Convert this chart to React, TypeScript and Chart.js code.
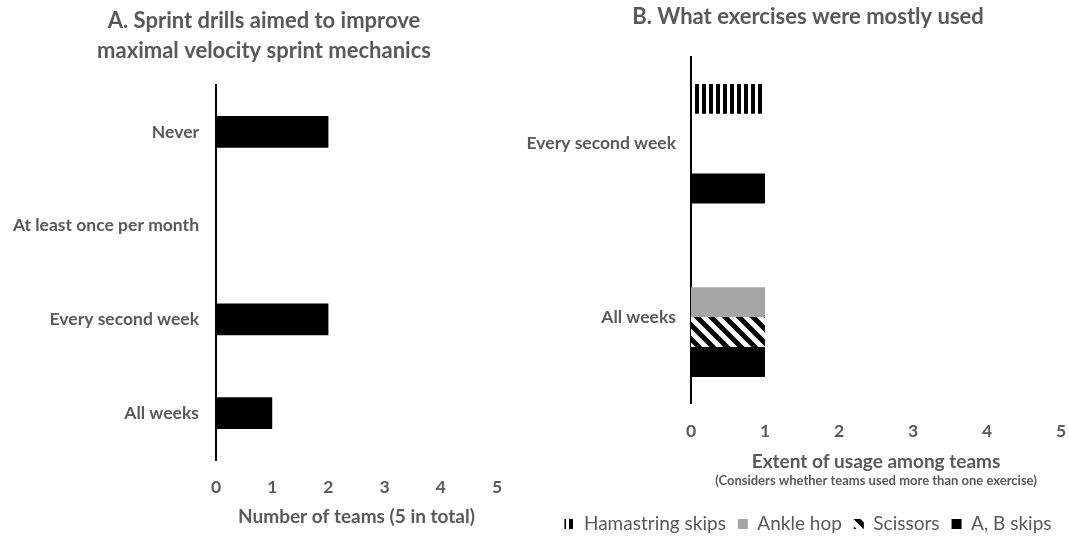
import React, { useEffect, useRef } from "react";
import { Chart, registerables } from "chart.js";

Chart.register(...registerables);

// ---- data ----
const titleA = ["A. Sprint drills aimed to improve", "maximal velocity sprint mechanics"];
const categoriesA = ["Never", "At least once per month", "Every second week", "All weeks"];
const teamsA = [2, 0, 2, 1];
const axisTitleA = "Number of teams (5 in total)";

const titleB = "B. What exercises were mostly used";
const categoriesB = ["Every second week", "All weeks"];
const seriesNamesB = ["Hamastring skips", "Ankle hop", "Scissors", "A, B skips"];
const hamstringSkips = [1, 0];
const ankleHop = [0, 1];
const scissors = [0, 1];
const abSkips = [1, 1];
const axisTitleB = "Extent of usage among teams";
const axisSubtitleB = "(Considers whether teams used more than one exercise)";

const xMin = 0;
const xMax = 5;
const xStep = 1;

// ---- styles ----
const TEXT = "#595959";
const FONT = 'Lato, "Open Sans", sans-serif';
const TITLE_SIZE = 22;
const CAT_SIZE = 17.5;
const TICK_SIZE = 17.5;
const AXIS_TITLE_SIZE = 19;

function verticalStripes(ctx: CanvasRenderingContext2D): CanvasPattern {
  const c = document.createElement("canvas");
  c.width = 7;
  c.height = 7;
  const g = c.getContext("2d")!;
  g.fillStyle = "#ffffff";
  g.fillRect(0, 0, 7, 7);
  g.fillStyle = "#000000";
  g.fillRect(0, 0, 4, 7);
  return ctx.createPattern(c, "repeat")!;
}

function diagonalStripes(ctx: CanvasRenderingContext2D): CanvasPattern {
  const s = 14;
  const c = document.createElement("canvas");
  c.width = s;
  c.height = s;
  const g = c.getContext("2d")!;
  g.fillStyle = "#ffffff";
  g.fillRect(0, 0, s, s);
  g.strokeStyle = "#000000";
  g.lineWidth = 5;
  g.beginPath();
  for (const o of [-s, 0, s]) {
    g.moveTo(o - 2, -2);
    g.lineTo(o + s + 2, s + 2);
  }
  g.stroke();
  return ctx.createPattern(c, "repeat")!;
}

// an invisible right-hand box so titles/legend centre like the original
function spacerAxis(width: number) {
  return {
    type: "category",
    position: "right",
    display: true,
    grid: { display: false, drawTicks: false },
    border: { display: false },
    ticks: { display: false },
    afterFit: (s: any) => {
      s.width = width;
    },
  };
}

function LeftChart() {
  const ref = useRef<HTMLCanvasElement>(null);
  useEffect(() => {
    const canvas = ref.current!;
    const chart = new Chart(canvas, {
      type: "bar",
      data: {
        labels: categoriesA,
        datasets: [
          {
            data: teamsA,
            backgroundColor: "#000000",
            borderWidth: 0,
            barPercentage: 0.34,
            categoryPercentage: 1,
          },
        ],
      },
      options: {
        indexAxis: "y",
        animation: false,
        responsive: false,
        maintainAspectRatio: false,
        layout: { padding: { left: 0, right: 2, top: 0, bottom: 7.6 } },
        plugins: {
          legend: { display: false },
          tooltip: { enabled: false },
          title: {
            display: true,
            text: titleA,
            color: TEXT,
            font: { family: FONT, size: TITLE_SIZE, weight: "bold", lineHeight: 30 / TITLE_SIZE },
            padding: { top: 6, bottom: 19 },
          },
        },
        scales: {
          x: {
            min: xMin,
            max: xMax,
            ticks: {
              stepSize: xStep,
              color: TEXT,
              font: { family: FONT, size: TICK_SIZE, weight: "bold" },
              padding: 16.5,
            },
            grid: { display: false, drawTicks: false },
            border: { display: false },
            title: {
              display: true,
              text: axisTitleA,
              color: TEXT,
              font: { family: FONT, size: AXIS_TITLE_SIZE, weight: "bold" },
              padding: { top: 0, bottom: 0 },
            },
            afterFit: (s: any) => {
              s.height = 68.4;
            },
          },
          y: {
            grid: { display: false, drawTicks: false },
            border: { display: true, color: "#000000", width: 2 },
            ticks: {
              color: TEXT,
              font: { family: FONT, size: CAT_SIZE, weight: "bold" },
              padding: 17,
            },
            afterFit: (s: any) => {
              s.width = 216;
            },
          },
          ySpacer: spacerAxis(31),
        },
      } as any,
    });
    return () => chart.destroy();
  }, []);
  return (
    <canvas
      ref={ref}
      width={530}
      height={536}
      style={{ position: "absolute", left: 0, top: 0, width: 530, height: 536 }}
    />
  );
}

function RightChart() {
  const ref = useRef<HTMLCanvasElement>(null);
  useEffect(() => {
    const canvas = ref.current!;
    const ctx = canvas.getContext("2d")!;
    const subtitlePlugin = {
      id: "axisSubtitle",
      afterDraw(chart: any) {
        const { ctx: c, chartArea, scales } = chart;
        const titleCentre = scales.x.bottom - 29.2 - (AXIS_TITLE_SIZE * 1.2) / 2;
        c.save();
        c.font = `bold 13px ${FONT}`;
        c.fillStyle = TEXT;
        c.textAlign = "center";
        c.textBaseline = "middle";
        c.fillText(axisSubtitleB, (chartArea.left + chartArea.right) / 2, titleCentre + 19);
        c.restore();
      },
    };
    const chart = new Chart(canvas, {
      type: "bar",
      data: {
        labels: categoriesB,
        datasets: [
          { label: seriesNamesB[0], data: hamstringSkips, backgroundColor: verticalStripes(ctx), borderWidth: 0 },
          { label: seriesNamesB[1], data: ankleHop, backgroundColor: "#a5a5a5", borderWidth: 0 },
          { label: seriesNamesB[2], data: scissors, backgroundColor: diagonalStripes(ctx), borderWidth: 0 },
          { label: seriesNamesB[3], data: abSkips, backgroundColor: "#000000", borderWidth: 0 },
        ],
      },
      options: {
        indexAxis: "y",
        animation: false,
        responsive: false,
        maintainAspectRatio: false,
        datasets: { bar: { barPercentage: 1, categoryPercentage: 0.69 } },
        layout: { padding: { left: 0, right: 4, top: 0, bottom: 6.6 } },
        plugins: {
          tooltip: { enabled: false },
          title: {
            display: true,
            text: titleB,
            color: TEXT,
            font: { family: FONT, size: TITLE_SIZE, weight: "bold", lineHeight: 1.2 },
            padding: { top: 3.8, bottom: 26.8 },
          },
          legend: {
            display: true,
            position: "bottom",
            labels: {
              boxWidth: 10,
              boxHeight: 10,
              padding: 12,
              color: TEXT,
              font: { family: FONT, size: 19 },
            },
          },
        },
        scales: {
          x: {
            min: xMin,
            max: xMax,
            ticks: {
              stepSize: xStep,
              color: TEXT,
              font: { family: FONT, size: TICK_SIZE, weight: "bold" },
              padding: 17.5,
            },
            grid: { display: false, drawTicks: false },
            border: { display: false },
            title: {
              display: true,
              text: axisTitleB,
              color: TEXT,
              font: { family: FONT, size: AXIS_TITLE_SIZE, weight: "bold" },
              padding: { top: 0, bottom: 29.2 },
            },
            afterFit: (s: any) => {
              s.height = 98.6;
            },
          },
          y: {
            grid: { display: false, drawTicks: false },
            border: { display: true, color: "#000000", width: 2 },
            ticks: {
              color: TEXT,
              font: { family: FONT, size: CAT_SIZE, weight: "bold" },
              padding: 15,
            },
            afterFit: (s: any) => {
              s.width = 171;
            },
          },
          ySpacer: spacerAxis(35),
        },
      } as any,
      plugins: [subtitlePlugin],
    });
    return () => chart.destroy();
  }, []);
  return (
    <canvas
      ref={ref}
      width={580}
      height={550}
      style={{ position: "absolute", left: 520, top: 0, width: 580, height: 550 }}
    />
  );
}

export default function App() {
  return (
    <div
      style={{
        position: "absolute",
        left: 0,
        top: 0,
        width: 1069,
        height: 536,
        overflow: "hidden",
        background: "#ffffff",
      }}
    >
      <LeftChart />
      <RightChart />
    </div>
  );
}
